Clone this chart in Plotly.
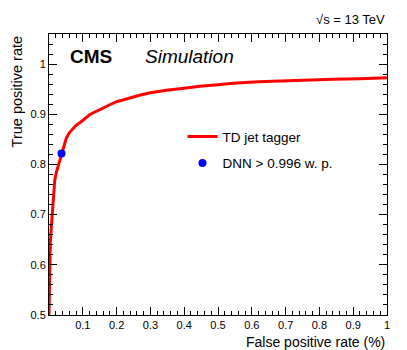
import plotly.graph_objects as go

# ROC curve of the TD jet tagger
fpr = [0.0, 0.001, 0.002, 0.004, 0.007, 0.010, 0.012, 0.015, 0.017, 0.022, 0.027, 0.032, 0.037,
       0.044, 0.051, 0.060, 0.071, 0.080, 0.091, 0.105, 0.120, 0.140, 0.160, 0.180, 0.200,
       0.235, 0.268, 0.300, 0.347, 0.400, 0.446, 0.500, 0.544, 0.620, 0.692, 0.760, 0.840,
       0.920, 1.0]
tpr = [0.5, 0.56, 0.61, 0.645, 0.676, 0.705, 0.729, 0.752, 0.769, 0.785, 0.796, 0.810, 0.822,
       0.838, 0.852, 0.863, 0.872, 0.878, 0.883, 0.891, 0.899, 0.906, 0.913, 0.919, 0.925,
       0.932, 0.938, 0.943, 0.948, 0.952, 0.956, 0.959, 0.962, 0.965, 0.967, 0.968, 0.970,
       0.971, 0.973]

# DNN working point
wp_fpr = [0.037]
wp_tpr = [0.822]

x_ticks = [0.1, 0.2, 0.3, 0.4, 0.5, 0.6, 0.7, 0.8, 0.9, 1.0]
x_ticktext = ["0.1", "0.2", "0.3", "0.4", "0.5", "0.6", "0.7", "0.8", "0.9", "1"]
y_ticks = [0.5, 0.6, 0.7, 0.8, 0.9, 1.0]
y_ticktext = ["0.5", "0.6", "0.7", "0.8", "0.9", "1"]

FONT = "Liberation Sans, Arial, sans-serif"

fig = go.Figure()
fig.add_trace(go.Scatter(x=fpr, y=tpr, mode="lines", name="TD jet tagger",
                         legendgroup="a", line=dict(color="#ff0000", width=3)))
fig.add_trace(go.Scatter(x=wp_fpr, y=wp_tpr, mode="markers", name="DNN > 0.996 w. p.",
                         legendgroup="b", marker=dict(color="#0000ff", size=8)))

axis_common = dict(showline=True, linecolor="black", linewidth=1, mirror="ticks",
                   ticks="inside", ticklen=8, tickcolor="black", showgrid=False,
                   zeroline=False, tickfont=dict(size=11, color="black"),
                   minor=dict(ticks="inside", ticklen=4, dtick=0.02, tickcolor="black"))

fig.update_xaxes(range=[0, 1], tickvals=x_ticks, ticktext=x_ticktext, **axis_common)
fig.update_yaxes(range=[0.5, 1.06], tickvals=y_ticks, ticktext=y_ticktext, **axis_common)

fig.add_annotation(text="<b>CMS</b>", x=0.056, y=0.92, xref="paper", yref="paper",
                   xanchor="left", yanchor="middle", showarrow=False,
                   font=dict(size=19, color="black"))
fig.add_annotation(text="<i>Simulation</i>", x=0.278, y=0.92, xref="paper", yref="paper",
                   xanchor="left", yanchor="middle", showarrow=False,
                   font=dict(size=19, color="black"))
fig.add_annotation(text="√s = 13 TeV", x=1.0, y=1.05, xref="paper", yref="paper",
                   xanchor="right", yanchor="middle", showarrow=False,
                   font=dict(size=13, color="black"))
fig.add_annotation(text="False positive rate (%)", x=1.0, y=-0.06, xref="paper", yref="paper",
                   xanchor="right", yanchor="top", showarrow=False,
                   font=dict(size=14, color="black"))
fig.add_annotation(text="True positive rate", x=-0.095, y=1.0, xref="paper", yref="paper",
                   xanchor="center", yanchor="top", textangle=-90, showarrow=False,
                   font=dict(size=14.5, color="black"))

# the page body adds an 8 px offset, so the figure is shrunk and margins trimmed
fig.update_layout(
    width=399, height=342,
    margin=dict(l=41, r=20, t=26, b=35),
    paper_bgcolor="white", plot_bgcolor="white",
    font=dict(family=FONT, color="black"),
    showlegend=True,
    legend=dict(x=0.395, y=0.69, xanchor="left", yanchor="top",
                bgcolor="rgba(0,0,0,0)", font=dict(size=13.5, color="black"),
                tracegroupgap=6, itemwidth=30),
)

fig.write_html("out.html")
